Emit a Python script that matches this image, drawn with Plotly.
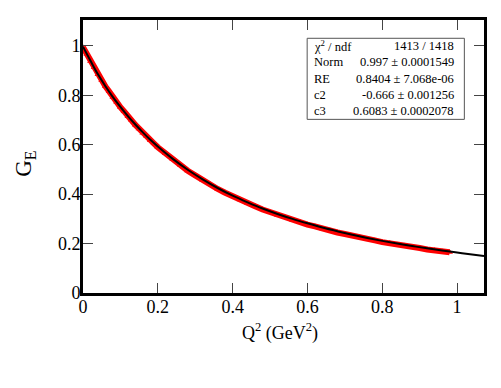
import plotly.graph_objects as go

# measured points (red)
q2_data = [0.00, 0.01, 0.02, 0.03, 0.04, 0.05, 0.06, 0.07, 0.08, 0.09,
           0.10, 0.11, 0.12, 0.13, 0.14, 0.15, 0.16, 0.17, 0.18, 0.19,
           0.20, 0.22, 0.24, 0.26, 0.28, 0.30, 0.32, 0.34, 0.36, 0.38,
           0.40, 0.42, 0.44, 0.46, 0.48, 0.50, 0.52, 0.54, 0.56, 0.58,
           0.60, 0.62, 0.64, 0.66, 0.68, 0.70, 0.72, 0.74, 0.76, 0.78,
           0.80, 0.82, 0.84, 0.86, 0.88, 0.90, 0.92, 0.94, 0.96, 0.98]
ge_data = [0.995, 0.967, 0.938, 0.913, 0.884, 0.861, 0.836, 0.816, 0.792, 0.773,
           0.752, 0.735, 0.714, 0.698, 0.680, 0.665, 0.648, 0.634, 0.617, 0.605,
           0.590, 0.565, 0.540, 0.518, 0.495, 0.476, 0.456, 0.439, 0.421, 0.406,
           0.391, 0.377, 0.362, 0.351, 0.338, 0.327, 0.315, 0.306, 0.295, 0.287,
           0.277, 0.270, 0.260, 0.254, 0.245, 0.239, 0.231, 0.226, 0.218, 0.213,
           0.206, 0.202, 0.195, 0.191, 0.185, 0.182, 0.176, 0.173, 0.168, 0.165]

# fit curve (black)
q2_fit = [0.00, 0.02, 0.04, 0.06, 0.08, 0.10, 0.12, 0.14, 0.16, 0.18, 0.20,
          0.24, 0.28, 0.32, 0.36, 0.40, 0.44, 0.48, 0.52, 0.56, 0.60,
          0.64, 0.68, 0.72, 0.76, 0.80, 0.84, 0.88, 0.92, 0.96, 1.00, 1.04, 1.072]
ge_fit = [0.997, 0.940, 0.885, 0.837, 0.793, 0.753, 0.716, 0.682, 0.650, 0.620, 0.593,
          0.543, 0.499, 0.460, 0.425, 0.394, 0.367, 0.342, 0.320, 0.300, 0.282,
          0.265, 0.250, 0.236, 0.223, 0.211, 0.200, 0.190, 0.181, 0.172, 0.164, 0.156, 0.150]

# stats box
stat_names = ['χ<sup>2</sup> / ndf', 'Norm', 'RE', 'c2', 'c3']
stat_values = ['1413 / 1418', '0.997 ± 0.0001549', '0.8404 ± 7.068e-06',
               '-0.666 ± 0.001256', '0.6083 ± 0.0002078']

tick_vals = [0, 0.2, 0.4, 0.6, 0.8, 1]
tick_text = ['0', '0.2', '0.4', '0.6', '0.8', '1']

SERIF = 'Liberation Serif'

fig = go.Figure()
fig.add_trace(go.Scatter(x=q2_data, y=ge_data, mode='lines+markers',
                         line=dict(color='#ff0000', width=6),
                         marker=dict(symbol='triangle-up', size=6, color='#ff0000'),
                         showlegend=False))
fig.add_trace(go.Scatter(x=q2_fit, y=ge_fit, mode='lines',
                         line=dict(color='black', width=2, shape='spline'),
                         showlegend=False))

axis_style = dict(showgrid=False, zeroline=False, showline=True, linecolor='black',
                  linewidth=3, mirror='ticks', ticks='inside', ticklen=10,
                  tickwidth=1, tickcolor='#444', tickvals=tick_vals, ticktext=tick_text,
                  tickfont=dict(family=SERIF, size=18, color='black'), automargin=False)

fig.update_xaxes(range=[0, 1.072], ticklabelstandoff=-5, **axis_style)
fig.update_yaxes(range=[0, 1.105], ticklabelstandoff=-4, **axis_style)

# axis titles placed by hand, ROOT style
fig.add_annotation(x=0.491, y=-0.143, xref='paper', yref='paper', showarrow=False,
                   text='Q<sup>2</sup> (GeV<sup>2</sup>)', xanchor='center', yanchor='middle',
                   font=dict(family=SERIF, size=18, color='black'))
fig.add_annotation(x=-0.185, y=0.476, xref='paper', yref='paper', showarrow=False,
                   text='G<sub>E</sub>', textangle=-90, xanchor='left', yanchor='middle',
                   font=dict(family=SERIF, size=23, color='black'))

# stats box in paper coordinates
fig.add_shape(type='rect', xref='paper', yref='paper', x0=0.559, x1=0.951, y0=0.636, y1=0.933,
              line=dict(color='#555', width=1), fillcolor='white', layer='above')
row_y = [0.906, 0.845, 0.785, 0.726, 0.668]
for name, val, y in zip(stat_names, stat_values, row_y):
    fig.add_annotation(x=0.570, y=y, xref='paper', yref='paper', text=name, showarrow=False,
                       xanchor='left', yanchor='middle', font=dict(family=SERIF, size=12.5, color='black'))
    fig.add_annotation(x=0.930, y=y, xref='paper', yref='paper', text=val, showarrow=False,
                       xanchor='right', yanchor='middle', font=dict(family=SERIF, size=12.5, color='black'))

# page body adds 8px, so margins are shifted to land the frame on the reference pixels
fig.update_layout(width=501, height=388, margin=dict(l=75, r=25, t=12, b=103),
                  plot_bgcolor='white', paper_bgcolor='white')
fig.write_html("out.html")
